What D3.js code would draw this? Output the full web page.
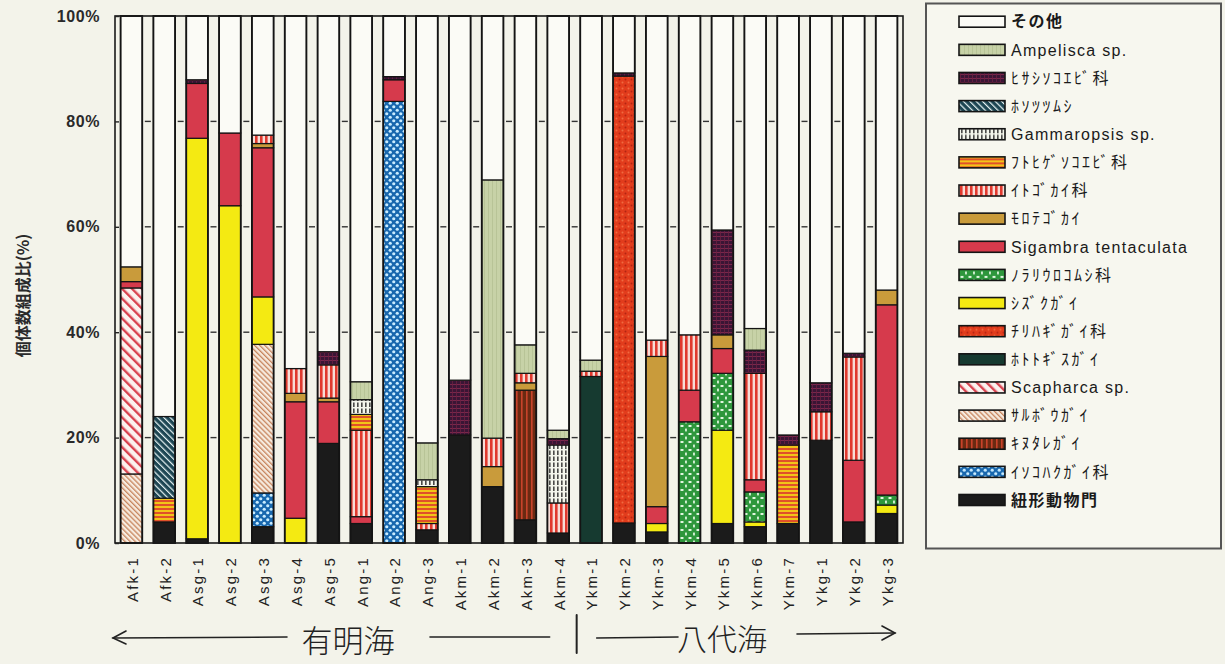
<!DOCTYPE html>
<html><head><meta charset="utf-8">
<script src="https://cdn.jsdelivr.net/npm/d3@7"></script>
<style>
body{margin:0;background:#f3f3ea;}
svg{display:block;}
</style></head>
<body><svg id="chart" width="1225" height="664"></svg>
<script>
// ---- data ----
const categories = ["Afk-1","Afk-2","Asg-1","Asg-2","Asg-3","Asg-4","Asg-5","Ang-1","Ang-2","Ang-3","Akm-1","Akm-2","Akm-3","Akm-4","Ykm-1","Ykm-2","Ykm-3","Ykm-4","Ykm-5","Ykm-6","Ykm-7","Ykg-1","Ykg-2","Ykg-3"];
// stacked bottom -> top
const seriesNames = ["紐形動物門","ｲｿｺﾊｸｶﾞｲ科","ｷﾇﾀﾚｶﾞｲ","ｻﾙﾎﾞｳｶﾞｲ","Scapharca sp.","ﾎﾄﾄｷﾞｽｶﾞｲ","ﾁﾘﾊｷﾞｶﾞｲ科","ｼｽﾞｸｶﾞｲ","ﾉﾗﾘｳﾛｺﾑｼ科","Sigambra tentaculata","ﾓﾛﾃｺﾞｶｲ","ｲﾄｺﾞｶｲ科","ﾌﾄﾋｹﾞｿｺｴﾋﾞ科","Gammaropsis sp.","ﾎｿﾂﾂﾑｼ","ﾋｻｼｿｺｴﾋﾞ科","Ampelisca sp.","その他"];
const himo        = [0,4.0,0.8,0,3.1,0,18.9,3.7,0,2.5,20.5,10.7,4.4,1.9,0,3.8,2.1,0,3.7,3.1,3.7,19.5,4.0,5.6];
const isokohaku   = [0,0,0,0,6.4,0,0,0,83.8,0,0,0,0,0,0,0,0,0,0,0,0,0,0,0];
const kinutare    = [0,0,0,0,0,0,0,0,0,0,0,0,24.6,0,0,0,0,0,0,0,0,0,0,0];
const sarubo      = [13.1,0,0,0,28.2,0,0,0,0,0,0,0,0,0,0,0,0,0,0,0,0,0,0,0];
const scapharca   = [35.3,0,0,0,0,0,0,0,0,0,0,0,0,0,0,0,0,0,0,0,0,0,0,0];
const hototogisu  = [0,0,0,0,0,0,0,0,0,0,0,0,0,0,31.6,0,0,0,0,0,0,0,0,0];
const chirihagi   = [0,0,0,0,0,0,0,0,0,0,0,0,0,0,0,84.8,0,0,0,0,0,0,0,0];
const shizuku     = [0,0,76.0,64.0,9.0,4.7,0,0,0,0,0,0,0,0,0,0,1.6,0,17.7,0.9,0,0,0,1.6];
const norari      = [0,0,0,0,0,0,0,0,0,0,0,0,0,0,0,0,0,23.0,10.8,5.7,0,0,0,1.9];
const sigambra    = [1.2,0,10.4,13.8,28.3,22.1,7.9,1.3,4.1,0,0,0,0,0,0,0,3.2,6.0,4.7,2.3,0,0,11.7,36.1];
const morotego    = [2.8,0,0,0,0.8,1.6,0.7,0,0,0,0,3.8,1.4,0,0,0,28.5,0,2.6,0,0,0,0,2.8];
const itogokai    = [0,0,0,0,1.6,4.7,6.3,16.4,0,1.2,0,5.4,1.8,5.7,1.0,0,3.1,10.5,0,20.2,0,5.4,19.6,0];
const futohige    = [0,4.5,0,0,0,0,0,3.0,0,7.0,0,0,0,0,0,0,0,0,0,0,14.9,0,0,0];
const gammaropsis = [0,0,0,0,0,0,0,2.8,0,1.3,0,0,0,11.0,0,0,0,0,0,0,0,0,0,0];
const hosotsutsu  = [0,15.5,0,0,0,0,0,0,0,0,0,0,0,0,0,0,0,0,0,0,0,0,0,0];
const hisashi     = [0,0,0.7,0,0,0,2.5,0,0.6,0,10.4,0,0,1.2,0,0.6,0,0,19.9,4.4,1.9,5.5,0.7,0];
const ampelisca   = [0,0,0,0,0,0,0,3.4,0,7.0,0,49.0,5.4,1.6,2.1,0,0,0,0,4.1,0,0,0,0];
const yTicks = [0,20,40,60,80,100];
const yTitle = "個体数組成比(%)";
const regionLeft = "有明海";
const regionRight = "八代海";

const valueArrays = [himo,isokohaku,kinutare,sarubo,scapharca,hototogisu,chirihagi,shizuku,norari,sigambra,morotego,itogokai,futohige,gammaropsis,hosotsutsu,hisashi,ampelisca];

// build table
const table = categories.map((c,i)=>{
  const row = {cat:c};
  let s = 0;
  valueArrays.forEach((arr,k)=>{row[seriesNames[k]] = arr[i]; s += arr[i];});
  row[seriesNames[17]] = Math.max(0, 100 - s);
  return row;
});

// ---- drawing ----
const svg = d3.select("#chart");
const defs = svg.append("defs");

function pat(id, w, h, bg, draw, transform){
  const p = defs.append("pattern").attr("id",id).attr("patternUnits","userSpaceOnUse").attr("width",w).attr("height",h);
  if(transform) p.attr("patternTransform",transform);
  p.append("rect").attr("width",w).attr("height",h).attr("fill",bg);
  draw(p);
}
pat("p-ito",5,10,"#f7dcd6",p=>p.append("rect").attr("x",0).attr("width",2.6).attr("height",10).attr("fill","#e0392e"));
pat("p-futo",10,4,"#f2c418",p=>p.append("rect").attr("y",0).attr("width",10).attr("height",2).attr("fill","#e0502a"));
pat("p-gamma",4,6,"#f4f6ec",p=>p.append("rect").attr("x",1.2).attr("y",0.5).attr("width",1.3).attr("height",4.5).attr("fill","#202020"));
pat("p-hoso",4.5,10,"#1d4653",p=>p.append("rect").attr("width",1.2).attr("height",10).attr("fill","#e8f4f4"),"rotate(-45)");
pat("p-scaph",7,10,"#fbf1ee",p=>p.append("rect").attr("width",2.4).attr("height",10).attr("fill","#d8424f"),"rotate(-45)");
pat("p-saru",3.6,10,"#f6ebdf",p=>p.append("rect").attr("width",1.3).attr("height",10).attr("fill","#c7855d"),"rotate(-45)");
pat("p-kinu",5,10,"#6b2a12",p=>p.append("rect").attr("x",1).attr("width",1.6).attr("height",10).attr("fill","#c9432a"));
pat("p-iso",7,7,"#1767ae",p=>{
  p.append("circle").attr("cx",1.75).attr("cy",1.75).attr("r",1.6).attr("fill","#c9ecff");
  p.append("circle").attr("cx",5.25).attr("cy",5.25).attr("r",1.6).attr("fill","#c9ecff");
});
pat("p-chiri",6,6,"#e23c1c",p=>{
  p.append("circle").attr("cx",1.5).attr("cy",1.5).attr("r",1).attr("fill","#b32412");
  p.append("circle").attr("cx",4.5).attr("cy",4.5).attr("r",1).attr("fill","#f06a40");
});
pat("p-nora",8,8,"#2e973c",p=>{
  p.append("ellipse").attr("cx",2).attr("cy",2).attr("rx",1.8).attr("ry",0.9).attr("fill","#f2fff0");
  p.append("ellipse").attr("cx",6).attr("cy",6).attr("rx",0.9).attr("ry",1.8).attr("fill","#f2fff0");
});
pat("p-hisa",4,4,"#3a1535",p=>{
  p.append("rect").attr("width",4).attr("height",0.8).attr("fill","#8a2a50");
  p.append("rect").attr("width",0.8).attr("height",4).attr("fill","#6a2040");
});
pat("p-amp",4,4,"#c7d2a7",p=>p.append("rect").attr("width",1).attr("height",4).attr("fill","#b8c497"));

const fills = ["#1b1b1b","url(#p-iso)","url(#p-kinu)","url(#p-saru)","url(#p-scaph)","#163a30","url(#p-chiri)","#f4ea12","url(#p-nora)","#d63a4c","#c99b3b","url(#p-ito)","url(#p-futo)","url(#p-gamma)","url(#p-hoso)","url(#p-hisa)","url(#p-amp)","#fbfbf6"];

const plotLeft = 115, plotRight = 903, plotTop = 16, plotBottom = 543;
const x = d3.scaleBand().domain(categories).range([plotLeft, plotRight]).paddingInner(0.34).paddingOuter(0.17);
const y = d3.scaleLinear().domain([0,100]).range([plotBottom, plotTop]);
const bw = x.bandwidth();
const gap = x.step() - bw;

const stack = d3.stack().keys(seriesNames)(table);

const gBars = svg.append("g");
stack.forEach((layer,k)=>{
  gBars.append("g").selectAll("rect").data(layer.filter(d=>d[1]-d[0]>0.001)).join("rect")
    .attr("x",d=>x(d.data.cat)).attr("width",bw)
    .attr("y",d=>y(d[1])).attr("height",d=>y(d[0])-y(d[1]))
    .attr("fill",fills[k]).attr("stroke","#141414").attr("stroke-width",1.2);
});
// bar outline
gBars.append("g").selectAll("rect").data(categories).join("rect")
  .attr("x",d=>x(d)).attr("width",bw).attr("y",y(100)).attr("height",y(0)-y(100))
  .attr("fill","none").attr("stroke","#141414").attr("stroke-width",1.8);

// gap tick dashes
const gapData = [];
categories.forEach((c,i)=>{ if(i<categories.length-1) yTicks.filter(t=>t>0&&t<100).forEach(t=>gapData.push({x:x(c)+bw+gap/2, t})); });
svg.append("g").selectAll("line").data(gapData).join("line")
  .attr("x1",d=>d.x-3).attr("x2",d=>d.x+3).attr("y1",d=>y(d.t)).attr("y2",d=>y(d.t))
  .attr("stroke","#333").attr("stroke-width",1.4);

// frame
svg.append("rect").attr("x",plotLeft).attr("y",plotTop).attr("width",plotRight-plotLeft).attr("height",plotBottom-plotTop)
  .attr("fill","none").attr("stroke","#1a1a1a").attr("stroke-width",1.6);

// y axis
const yAxis = svg.append("g").attr("transform",`translate(${plotLeft},0)`)
  .call(d3.axisLeft(y).tickValues(yTicks).tickFormat(d=>d+"%").tickSize(-4).tickPadding(15));
yAxis.select(".domain").remove();
yAxis.selectAll(".tick line").attr("stroke","#222").attr("stroke-width",1.4);
yAxis.selectAll(".tick text").attr("font-family","Liberation Sans, Arial, sans-serif").attr("font-size",16).attr("font-weight","bold").attr("letter-spacing",0.6).attr("fill","#2a2a2a");

svg.append("text").attr("transform",`translate(23,${(plotTop+plotBottom)/2+16}) rotate(-90)`)
  .attr("text-anchor","middle").attr("dy","0.35em").attr("font-family","Noto Sans CJK JP, sans-serif").attr("font-size",16).attr("font-weight","bold").attr("fill","#2a2a2a").text(yTitle);

// x labels
svg.append("g").selectAll("text").data(categories).join("text")
  .attr("transform",d=>`translate(${x(d)+bw/2+1},${plotBottom+13}) rotate(-90)`)
  .attr("text-anchor","end").attr("dy","0.35em")
  .attr("font-family","Liberation Sans, Arial, sans-serif").attr("font-size",15).attr("letter-spacing",2.2).attr("fill","#222")
  .text(d=>d);

// region annotation (hand-drawn style)
const ann = svg.append("g").attr("stroke","#222").attr("stroke-width",1.6).attr("fill","none").attr("stroke-linecap","round");
const divX = x(categories[14]) - gap/2;
const lx0 = plotLeft - 2, ay = 638;
ann.append("path").attr("d",`M${lx0+13},${ay-7} L${lx0},${ay} L${lx0+13},${ay+6}`);
ann.append("line").attr("x1",lx0).attr("x2",287).attr("y1",ay).attr("y2",ay-1);
ann.append("line").attr("x1",430).attr("x2",divX-25).attr("y1",ay-1).attr("y2",ay-1);
ann.append("line").attr("x1",divX+2).attr("x2",divX+2).attr("y1",615).attr("y2",653).attr("stroke-width",2);
ann.append("line").attr("x1",divX+22).attr("x2",678).attr("y1",ay).attr("y2",ay-1);
const rx1 = plotRight - 8;
ann.append("line").attr("x1",797).attr("x2",rx1).attr("y1",ay-4).attr("y2",ay-5);
ann.append("path").attr("d",`M${rx1-13},${ay-12} L${rx1},${ay-5} L${rx1-13},${ay+2}`);
svg.append("text").attr("x",348).attr("y",652).attr("text-anchor","middle").attr("font-family","Noto Sans CJK JP, sans-serif").attr("font-size",31).attr("font-weight",300).attr("fill","#222").text(regionLeft);
svg.append("text").attr("x",722).attr("y",650).attr("text-anchor","middle").attr("font-family","Noto Sans CJK JP, sans-serif").attr("font-size",30).attr("font-weight",300).attr("fill","#222").text(regionRight);

// legend
const lg = svg.append("g");
lg.append("rect").attr("x",926).attr("y",3.5).attr("width",295).attr("height",545).attr("fill","#f7f7ef").attr("stroke","#555").attr("stroke-width",2);
const legendItems = seriesNames.map((n,k)=>({n,k})).reverse();
const ly = d3.scalePoint().domain(legendItems.map(d=>d.n)).range([21.7,500]);
const li = lg.selectAll("g.li").data(legendItems).join("g").attr("class","li").attr("transform",d=>`translate(0,${ly(d.n)})`);
li.append("rect").attr("x",959).attr("y",-5.5).attr("width",46).attr("height",11).attr("fill",d=>fills[d.k]).attr("stroke","#141414").attr("stroke-width",1.6);
li.append("text").attr("x",1011).attr("dy","0.36em")
  .attr("font-family",d=>/^[A-Za-z]/.test(d.n)?"Liberation Sans, Arial, sans-serif":"Noto Sans CJK JP, sans-serif")
  .attr("font-size",16)
  .attr("font-weight",d=>(d.n==="その他"||d.n==="紐形動物門")?"bold":"normal")
  .attr("letter-spacing",d=>/^[A-Za-z]/.test(d.n)?1.3:(d.n==="その他"||d.n==="紐形動物門")?1.5:2.5)
  .attr("fill","#1a1a1a").text(d=>d.n);
</script>
</body></html>
